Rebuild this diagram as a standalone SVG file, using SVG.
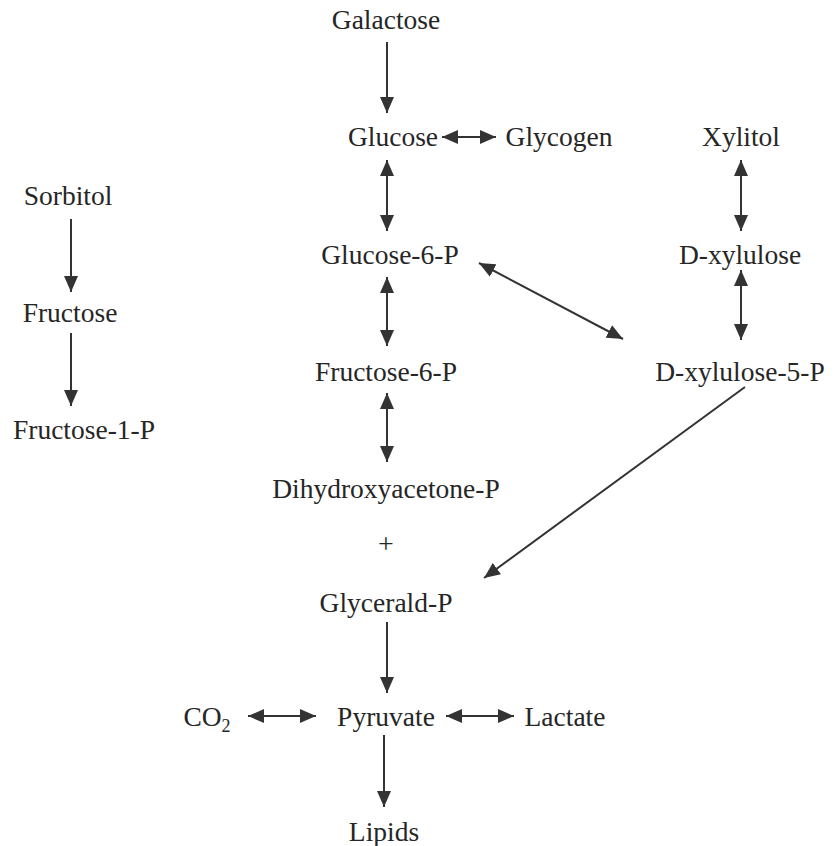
<svg xmlns="http://www.w3.org/2000/svg" width="840" height="846" viewBox="0 0 840 846">
<style>
text{font-family:"Liberation Serif","Times New Roman",serif;font-size:27.5px;fill:#262626;text-anchor:middle}
.c{stroke:#333;stroke-width:2;fill:none}
.one{marker-end:url(#ah)}
.two{marker-start:url(#ah);marker-end:url(#ah)}
</style>
<defs>
<marker id="ah" markerUnits="userSpaceOnUse" markerWidth="17" markerHeight="15" refX="16" refY="7.5" orient="auto-start-reverse" viewBox="0 0 17 15">
<path d="M0,0.5 L16,7.5 L0,14.5 Z" fill="#333"/>
</marker>
</defs>
<rect width="840" height="846" fill="#fff"/>
<g id="connectors">
<line class="c one" x1="387" y1="42" x2="387" y2="113"/>
<line class="c two" x1="442" y1="137" x2="496" y2="137"/>
<line class="c two" x1="387" y1="160" x2="387" y2="231"/>
<line class="c two" x1="741" y1="160" x2="741" y2="231"/>
<line class="c one" x1="71" y1="219" x2="71" y2="292"/>
<line class="c two" x1="387" y1="277" x2="387" y2="346"/>
<line class="c two" x1="479" y1="263" x2="623" y2="339"/>
<line class="c two" x1="741" y1="270" x2="741" y2="340"/>
<line class="c one" x1="71" y1="333" x2="71" y2="406"/>
<line class="c two" x1="387" y1="393" x2="387" y2="462"/>
<line class="c one" x1="745" y1="387" x2="484" y2="578"/>
<line class="c one" x1="387" y1="622" x2="387" y2="693"/>
<line class="c two" x1="248" y1="716" x2="316" y2="716"/>
<line class="c two" x1="446" y1="716" x2="514" y2="716"/>
<line class="c one" x1="384" y1="735" x2="384" y2="807"/>
</g>
<g id="galactose"><text x="386" y="29">Galactose</text></g>
<g id="glucose"><text x="393" y="146">Glucose</text></g>
<g id="glycogen"><text x="559" y="146">Glycogen</text></g>
<g id="xylitol"><text x="741" y="146">Xylitol</text></g>
<g id="sorbitol"><text x="68" y="205">Sorbitol</text></g>
<g id="glucose6p"><text x="390" y="264">Glucose-6-P</text></g>
<g id="dxylulose"><text x="740" y="264">D-xylulose</text></g>
<g id="fructose"><text x="70" y="322">Fructose</text></g>
<g id="fructose6p"><text x="386" y="381">Fructose-6-P</text></g>
<g id="dxylulose5p"><text x="740" y="381">D-xylulose-5-P</text></g>
<g id="fructose1p"><text x="84" y="439">Fructose-1-P</text></g>
<g id="dhap"><text x="386" y="498">Dihydroxyacetone-P</text></g>
<g id="plus"><text x="386" y="553" style="font-size:28px">+</text></g>
<g id="glyceraldp"><text x="386" y="612">Glycerald-P</text></g>
<g id="co2"><text x="207" y="726">CO<tspan font-size="18" dy="6">2</tspan></text></g>
<g id="pyruvate"><text x="386" y="726">Pyruvate</text></g>
<g id="lactate"><text x="565" y="726">Lactate</text></g>
<g id="lipids"><text x="384" y="841">Lipids</text></g>
</svg>
